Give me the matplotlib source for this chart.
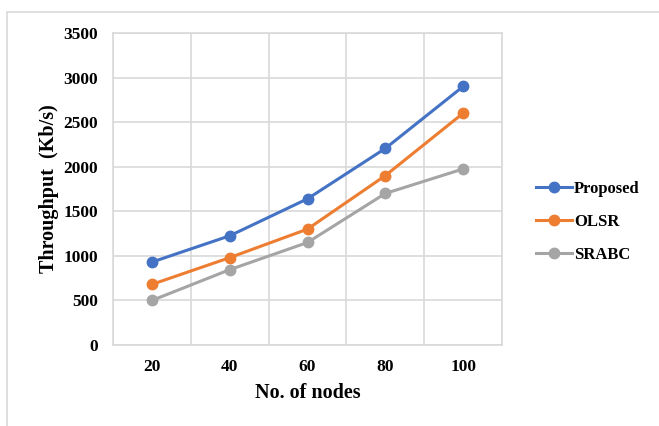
import matplotlib.pyplot as plt
from matplotlib.patches import Rectangle

plt.rcParams['font.family'] = ['Liberation Serif', 'DejaVu Serif']
plt.rcParams['font.weight'] = 'bold'

# 数据
nodes = ['20', '40', '60', '80', '100']
proposed = [930, 1225, 1640, 2205, 2900]
olsr = [680, 980, 1300, 1900, 2600]
srabc = [500, 845, 1150, 1700, 1975]

series_names = ['Proposed', 'OLSR', 'SRABC']
colors = ['#4472C4', '#ED7D31', '#A5A5A5']

fig = plt.figure(figsize=(6.59, 4.26), dpi=100)
ax = fig.add_axes([113 / 659, 81 / 426, 389 / 659, 312 / 426])

# 外框
fig.patches.append(Rectangle((7 / 659, -0.01), 1.0, (426 - 12) / 426 + 0.01,
                             transform=fig.transFigure, fill=False,
                             ec='#D9D9D9', lw=1.2))

x = list(range(len(nodes)))
for name, vals, c in zip(series_names, [proposed, olsr, srabc], colors):
    ax.plot(x, vals, color=c, lw=2.2, marker='o', ms=7.5, label=name)

ax.set_xlim(-0.5, len(nodes) - 0.5)
ax.set_ylim(0, 3500)
ax.set_yticks(range(0, 3501, 500))
ax.set_xticks(x)
ax.set_xticklabels(nodes)
ax.set_xticks([i - 0.5 for i in range(len(nodes) + 1)], minor=True)

ax.grid(True, which='major', axis='y', color='#D9D9D9', lw=1.2)
ax.grid(True, which='minor', axis='x', color='#D9D9D9', lw=1.2)
ax.set_axisbelow(True)
for s in ax.spines.values():
    s.set_color('#D9D9D9')
    s.set_linewidth(1.2)
ax.tick_params(which='both', length=0, labelsize=12.5)
ax.tick_params(axis='y', pad=11)
ax.tick_params(axis='x', pad=10)
for t in ax.get_xticklabels() + ax.get_yticklabels():
    t.set_fontweight('bold')

ax.set_xlabel('No. of nodes', fontsize=14.5, fontweight='bold', labelpad=6)
ax.set_ylabel('Throughput  (Kb/s)', fontsize=14.5, fontweight='bold', labelpad=3)

fig.legend(loc='center left', bbox_to_anchor=(529 / 659, (426 - 222) / 426),
           borderaxespad=0, frameon=False, handlelength=2.2, handletextpad=0.1,
           labelspacing=1.0, prop={'weight': 'bold', 'size': 12})

fig.savefig('out.png', dpi=100)
